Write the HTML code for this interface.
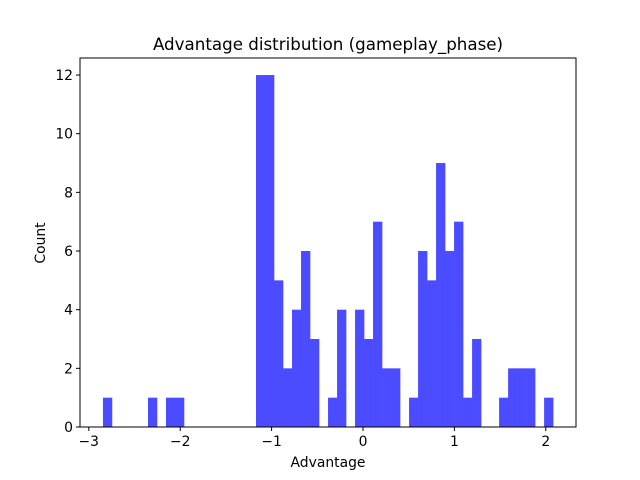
<!DOCTYPE html>
<html><head><meta charset="utf-8"><style>body{margin:0;background:#fff}svg{display:block;font-family:"DejaVu Sans","Liberation Sans",sans-serif}</style></head>
<body>
<svg id="chart" width="640" height="480">
<rect width="640" height="480" fill="#fff"/>
<text x="328" y="50" font-size="16.7" text-anchor="middle">Advantage distribution (gameplay_phase)</text>
<g id="bars"></g>
<g id="axes"></g>
<text x="328" y="467" font-size="13.9" text-anchor="middle">Advantage</text>
<text transform="translate(45,243) rotate(-90)" font-size="13.9" text-anchor="middle">Count</text>
</svg>
<script>
const counts = [1,0,0,0,0,1,0,1,1,0,0,0,0,0,0,0,0,12,12,5,2,4,6,3,0,1,4,0,4,3,7,2,2,0,1,6,5,9,6,7,1,3,0,0,1,2,2,2,0,1];
const binStart = -2.845;
const binWidth = 0.0985;
const xTicks = [-3,-2,-1,0,1,2];
const yTicks = [0,2,4,6,8,10,12];
const L=80,R=576,T=58,B=427;
const xs = v => 363 + v*91.4;
const ys = v => B - v*29.33;
const NS="http://www.w3.org/2000/svg";
const bars=document.getElementById('bars'), axes=document.getElementById('axes');
counts.forEach((c,i)=>{
  if(!c) return;
  const x0=xs(binStart+i*binWidth), x1=xs(binStart+(i+1)*binWidth);
  const r=document.createElementNS(NS,'rect');
  r.setAttribute('x',x0);r.setAttribute('width',x1-x0+0.3);
  r.setAttribute('y',ys(c));r.setAttribute('height',B-ys(c));
  r.setAttribute('fill','#4b4bff');
  
  
  bars.appendChild(r);
});
let h='<rect x="'+L+'" y="'+T+'" width="'+(R-L)+'" height="'+(B-T)+'" fill="none" stroke="#000" stroke-width="1"/>';
xTicks.forEach(t=>{const x=xs(t);h+='<line x1="'+x+'" x2="'+x+'" y1="'+B+'" y2="'+(B+4)+'" stroke="#000"/><text x="'+x+'" y="'+(B+19)+'" font-size="13.9" text-anchor="middle">'+(t<0?'\u2212'+(-t):t)+'</text>';});
yTicks.forEach(t=>{const y=ys(t);h+='<line x1="'+(L-4)+'" x2="'+L+'" y1="'+y+'" y2="'+y+'" stroke="#000"/><text x="'+(L-7)+'" y="'+(y+5)+'" font-size="13.9" text-anchor="end">'+t+'</text>';});
axes.innerHTML=h;


</script>
</body></html>
